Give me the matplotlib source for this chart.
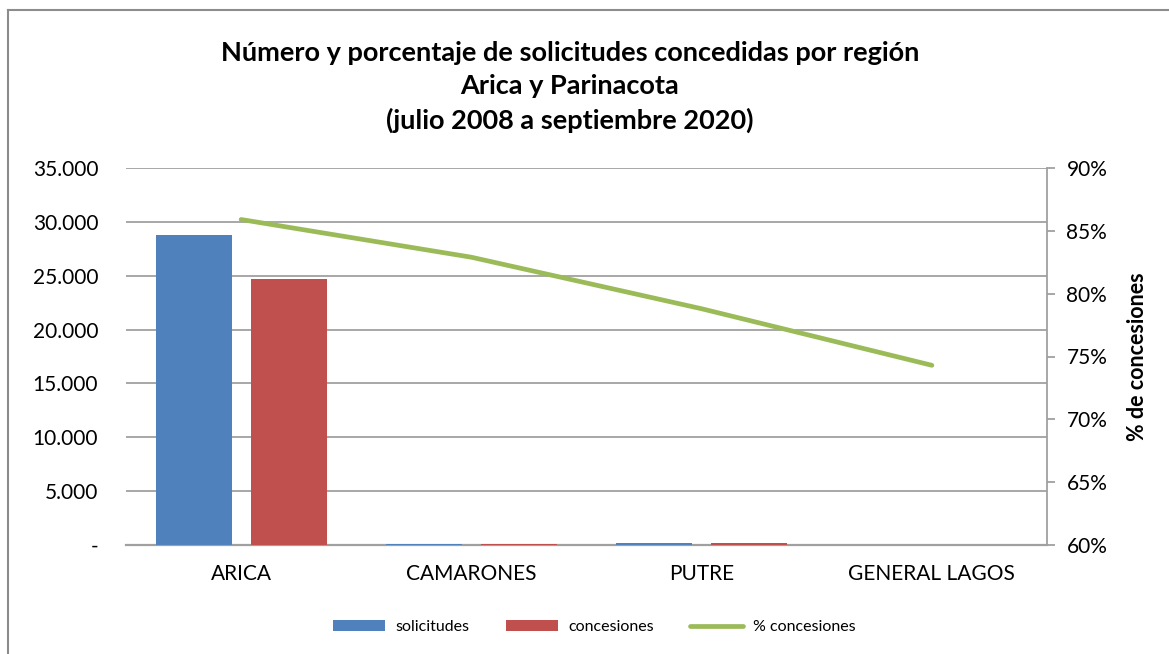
import matplotlib
matplotlib.use("Agg")
import matplotlib.pyplot as plt
from matplotlib.lines import Line2D
from matplotlib.ticker import FuncFormatter
import numpy as np

plt.rcParams["font.family"] = ["Lato", "DejaVu Sans"]

# datos
comunas = ["ARICA", "CAMARONES", "PUTRE", "GENERAL LAGOS"]
solicitudes = [28750, 100, 220, 35]
concesiones = [24650, 83, 174, 26]
pct_concesiones = [85.9, 82.9, 78.8, 74.3]

AZUL = "#4F81BD"
ROJO = "#C0504D"
VERDE = "#9BBB59"
GRIS = "#A0A0A0"

fig = plt.figure(figsize=(11.69, 6.54), dpi=100)
ax = fig.add_axes([126 / 1169, 1 - 545 / 654, 921 / 1169, 377 / 654])

x = np.arange(len(comunas))
w = 0.33
ax.bar(x - 0.206, solicitudes, w, color=AZUL, label="solicitudes", zorder=3)
ax.bar(x + 0.206, concesiones, w, color=ROJO, label="concesiones", zorder=3)

ax.set_xlim(-0.5, len(comunas) - 0.5)
ax.set_ylim(0, 35000)
ax.set_yticks(np.arange(0, 35001, 5000))
ax.yaxis.set_major_formatter(FuncFormatter(
    lambda v, p: "-" if v == 0 else f"{int(v):,}".replace(",", ".")))
ax.set_xticks(x)
ax.set_xticklabels(comunas)
ax.tick_params(axis="y", length=0, pad=20, labelsize=15)
ax.tick_params(axis="x", length=0, pad=14, labelsize=15)
ax.grid(axis="y", color=GRIS, lw=1.3, zorder=0)
for s in ["left", "top", "right"]:
    ax.spines[s].set_visible(False)
ax.spines["bottom"].set_color(GRIS)
ax.spines["bottom"].set_linewidth(1.6)

ax2 = ax.twinx()
ax2.plot(x, pct_concesiones, color=VERDE, lw=3.4, label="% concesiones",
         solid_capstyle="round", zorder=4)
ax2.set_ylim(60, 90)
ax2.set_yticks(np.arange(60, 91, 5))
ax2.yaxis.set_major_formatter(FuncFormatter(lambda v, p: f"{int(v)}%"))
ax2.tick_params(axis="y", length=6, width=1.3, color=GRIS, pad=8, labelsize=15)
for s in ["left", "top", "bottom"]:
    ax2.spines[s].set_visible(False)
ax2.spines["right"].set_color(GRIS)
ax2.spines["right"].set_linewidth(1.3)
ax2.set_ylabel("% de concesiones", fontsize=15.5, fontweight="bold", labelpad=14)

fig.text(570 / 1169, 1 - 87 / 654,
         "Número y porcentaje de solicitudes concedidas por región\n"
         "Arica y Parinacota\n(julio 2008 a septiembre 2020)",
         ha="center", va="center", fontsize=19.5, fontweight="bold",
         linespacing=1.45)

h1, l1 = ax.get_legend_handles_labels()
h2, l2 = ax2.get_legend_handles_labels()
fig.legend(h1 + h2, l1 + l2, loc="center", bbox_to_anchor=(594 / 1169, 1 - 627 / 654),
           ncol=3, frameon=False, fontsize=11.5, handlelength=3.3, handleheight=0.75,
           columnspacing=2.3, handletextpad=0.6)

# marco exterior
fig.add_artist(Line2D([8 / 1169, 8 / 1169], [0, 1 - 10 / 654], color="#8C8C8C", lw=1.5))
fig.add_artist(Line2D([8 / 1169, 1], [1 - 10 / 654, 1 - 10 / 654], color="#8C8C8C", lw=1.5))

fig.savefig("out.png", dpi=100)
